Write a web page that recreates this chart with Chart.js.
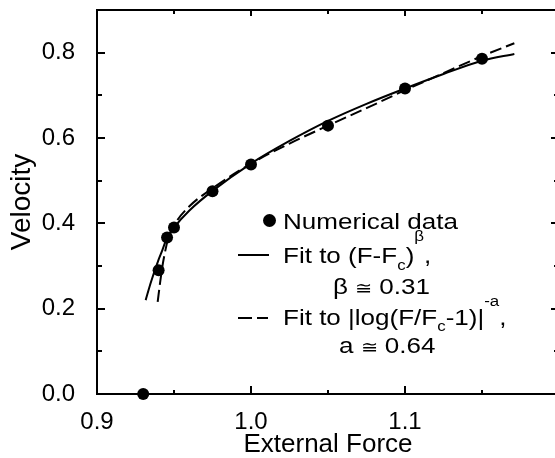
<!DOCTYPE html>
<html>
<head>
<meta charset="utf-8">
<style>
html,body{margin:0;padding:0;overflow:hidden;background:#fff;width:555px;height:458px;}
#wrap{position:absolute;left:0;top:0;width:565px;height:458px;}
</style>
<script src="https://cdn.jsdelivr.net/npm/chart.js@4"></script>
</head>
<body>
<div id="wrap"><canvas id="c" width="565" height="458"></canvas></div>
<script>
// ---- tick values / labels ----
const xMajorTicks = [0.9, 1.0, 1.1, 1.2];
const xMinorTicks = [0.95, 1.05, 1.15];
const xTickLabels = ['0.9', '1.0', '1.1', ''];
const yMajorTicks = [0.0, 0.2, 0.4, 0.6, 0.8];
const yMinorTicks = [0.1, 0.3, 0.5, 0.7];
const yTickLabels = ['0.0', '0.2', '0.4', '0.6', '0.8'];

// ---- numerical data ----
const dataForce    = [0.93, 0.94, 0.9455, 0.95, 0.975, 1.0, 1.05, 1.1, 1.15];
const dataVelocity = [0.0, 0.29, 0.367, 0.39, 0.475, 0.538, 0.629, 0.716, 0.786];

// ---- fit to (F-Fc)^beta ----
const powerFitForce    = [0.9316, 0.935, 0.94, 0.9425, 0.9452, 0.95, 0.96, 0.975, 1.0, 1.025, 1.05, 1.075, 1.1, 1.125, 1.15, 1.171];
const powerFitVelocity = [0.220, 0.262, 0.315, 0.338, 0.364, 0.390, 0.430, 0.476, 0.540, 0.593, 0.640, 0.680, 0.716, 0.750, 0.781, 0.797];

// ---- fit to |log(F/Fc-1)|^-a ----
const logFitForce    = [0.9394, 0.9409, 0.9425, 0.9442, 0.946, 0.95, 0.96, 0.975, 1.0, 1.025, 1.05, 1.075, 1.1, 1.125, 1.15, 1.171];
const logFitVelocity = [0.216, 0.259, 0.300, 0.333, 0.362, 0.395, 0.440, 0.482, 0.540, 0.587, 0.629, 0.670, 0.712, 0.752, 0.792, 0.822];

const xTitle = 'External Force';
const yTitle = 'Velocity';

const FAM = "'Liberation Sans', Arial, Helvetica, sans-serif";
const zip = (xs, ys) => xs.map((x, i) => ({x: x, y: ys[i]}));

// inward tick marks drawn through the chart's scales
const tickPlugin = {
  id: 'inwardTicks',
  afterDraw(chart) {
    const ctx = chart.ctx, a = chart.chartArea;
    const xs = chart.scales.x, ys = chart.scales.y;
    ctx.save();
    ctx.strokeStyle = '#000';
    ctx.lineCap = 'butt';
    const seg = (x1, y1, x2, y2, w) => {
      ctx.lineWidth = w; ctx.beginPath(); ctx.moveTo(x1, y1); ctx.lineTo(x2, y2); ctx.stroke();
    };
    xMajorTicks.forEach(v => {
      const p = Math.round(xs.getPixelForValue(v));
      seg(p, a.bottom, p, a.bottom - 8, 2);
      seg(p, a.top, p, a.top + 6, 2);
    });
    xMinorTicks.forEach(v => {
      const p = Math.round(xs.getPixelForValue(v));
      seg(p, a.bottom, p, a.bottom - 4, 2);
      seg(p, a.top, p, a.top + 4, 2);
    });
    yMajorTicks.forEach(v => {
      const p = Math.round(ys.getPixelForValue(v));
      seg(a.left, p, a.left + 8, p, 2);
      seg(a.right, p, a.right - 8, p, 2);
    });
    yMinorTicks.forEach(v => {
      const p = Math.round(ys.getPixelForValue(v));
      seg(a.left, p, a.left + 5, p, 2);
      seg(a.right, p, a.right - 5, p, 2);
    });
    ctx.restore();
  }
};

// legend with sub/superscripts
const LEG_SIZE = 21.5, LEG_SMALL = 14, SX = 1.21;
function drawRuns(ctx, x, y, runs) {
  ctx.save();
  ctx.translate(x, y);
  ctx.scale(SX, 1);
  ctx.fillStyle = '#000';
  ctx.textBaseline = 'alphabetic';
  ctx.textAlign = 'left';
  let cx = 0;
  runs.forEach(r => {
    ctx.font = (r.size || LEG_SIZE) + 'px ' + FAM;
    ctx.fillText(r.t, cx, r.dy || 0);
    cx += ctx.measureText(r.t).width;
  });
  ctx.restore();
}
const legendPlugin = {
  id: 'customLegend',
  afterDatasetsDraw(chart) {
    const ctx = chart.ctx;
    ctx.save();
    // marker: dot
    ctx.fillStyle = '#000';
    ctx.beginPath(); ctx.arc(269.5, 220.5, 6.5, 0, Math.PI * 2); ctx.fill();
    // marker: solid line
    ctx.strokeStyle = '#000'; ctx.lineWidth = 2;
    ctx.beginPath(); ctx.moveTo(238, 255); ctx.lineTo(269, 255); ctx.stroke();
    // marker: dashed line
    ctx.beginPath(); ctx.moveTo(238, 318); ctx.lineTo(252, 318); ctx.moveTo(257, 318); ctx.lineTo(268, 318); ctx.stroke();
    ctx.restore();

    drawRuns(ctx, 283, 228.5, [{t: 'Numerical data'}]);
    drawRuns(ctx, 283, 263, [
      {t: 'Fit to (F-F'}, {t: 'c', size: LEG_SMALL, dy: 6.5}, {t: ')'},
      {t: 'β', size: LEG_SMALL, dy: -22}, {t: ','}
    ]);
    drawRuns(ctx, 333, 293.5, [{t: 'β '}, {t: '≅', size: 17}, {t: ' 0.31'}]);
    drawRuns(ctx, 283, 324.5, [
      {t: 'Fit to |log(F/F'}, {t: 'c', size: LEG_SMALL, dy: 6.5}, {t: '-1)|'},
      {t: '-a', size: LEG_SMALL, dy: -19}, {t: ','}
    ]);
    drawRuns(ctx, 339, 353, [{t: 'a '}, {t: '≅', size: 17}, {t: ' 0.64'}]);
  }
};

const tickFont = {family: FAM, size: 24, lineHeight: 1};
const border = {display: true, color: '#000', width: 2};

new Chart(document.getElementById('c'), {
  type: 'scatter',
  data: {
    datasets: [
      {
        label: 'Numerical data',
        data: zip(dataForce, dataVelocity),
        showLine: false,
        pointRadius: 6,
        pointHoverRadius: 6,
        pointBackgroundColor: '#000',
        pointBorderWidth: 0,
        clip: false
      },
      {
        label: 'Fit to (F-Fc)^β',
        data: zip(powerFitForce, powerFitVelocity),
        showLine: true,
        borderColor: '#000',
        borderWidth: 2,
        pointRadius: 0,
        cubicInterpolationMode: 'monotone',
        fill: false
      },
      {
        label: 'Fit to |log(F/Fc-1)|^-a',
        data: zip(logFitForce, logFitVelocity),
        showLine: true,
        borderColor: '#000',
        borderWidth: 2,
        borderDash: [12, 5],
        pointRadius: 0,
        cubicInterpolationMode: 'monotone',
        fill: false
      }
    ]
  },
  options: {
    responsive: false,
    animation: false,
    devicePixelRatio: 1,
    layout: {padding: 0},
    plugins: {legend: {display: false}, tooltip: {enabled: false}},
    events: [],
    scales: {
      x: {
        type: 'linear', position: 'bottom', min: 0.9, max: 1.2,
        afterBuildTicks: s => { s.ticks = xMajorTicks.map(v => ({value: v})); },
        ticks: {font: tickFont, color: '#000', padding: 8, maxRotation: 0, autoSkip: false,
                callback: (v, i) => xTickLabels[i]},
        grid: {display: false},
        border: border,
        title: {display: true, text: xTitle, color: '#000',
                font: {family: FAM, size: 26, lineHeight: 1}, padding: {top: 0, bottom: 0}},
        afterFit: s => { s.height = 64; s.paddingLeft = 0; s.paddingRight = 0; }
      },
      xTop: {
        type: 'linear', axis: 'x', position: 'top', min: 0.9, max: 1.2,
        ticks: {display: false}, grid: {display: false}, border: border,
        afterFit: s => { s.height = 10; s.paddingLeft = 0; s.paddingRight = 0; }
      },
      y: {
        type: 'linear', position: 'left', min: 0, max: 0.9,
        afterBuildTicks: s => { s.ticks = yMajorTicks.map(v => ({value: v})); },
        ticks: {font: tickFont, color: '#000', padding: 14, autoSkip: false,
                callback: (v, i) => yTickLabels[i]},
        grid: {display: false},
        border: border,
        title: {display: true, text: yTitle, color: '#000',
                font: {family: FAM, size: 28, lineHeight: 1}, padding: {top: 8, bottom: 0}},
        afterFit: s => { s.width = 97; s.paddingTop = 0; s.paddingBottom = 0; }
      },
      yRight: {
        type: 'linear', axis: 'y', position: 'right', min: 0, max: 0.9,
        ticks: {display: false}, grid: {display: false}, border: border,
        afterFit: s => { s.width = 6; s.paddingTop = 0; s.paddingBottom = 0; }
      }
    }
  },
  plugins: [tickPlugin, legendPlugin]
});
</script>
</body>
</html>
